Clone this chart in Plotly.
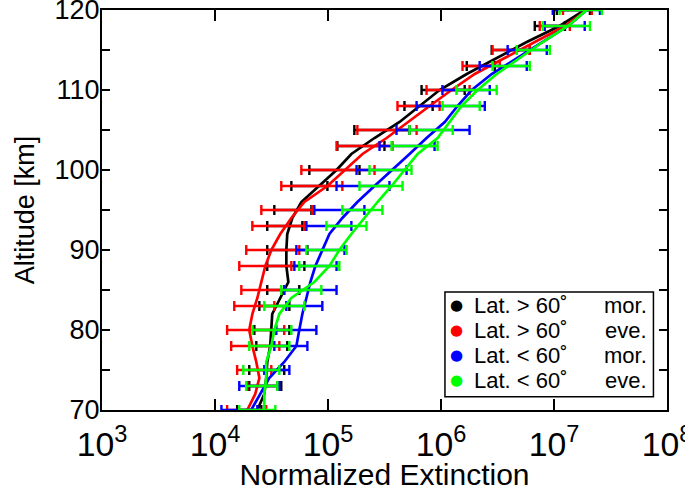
import plotly.graph_objects as go

# altitude grid of the profiles [km]
alt = [70, 72, 74, 76, 78, 80, 82, 84, 86, 88, 90, 92, 94, 96, 98,
       100, 102, 104, 106, 108, 110, 112, 114, 116, 118, 120]

# normalized extinction profiles
ext_hi_mor = [2.37e4, 2.73e4, 2.84e4, 2.90e4, 3.08e4, 3.15e4, 3.21e4, 3.78e4, 4.46e4, 4.28e4,
              4.28e4, 4.36e4, 4.83e4, 5.81e4, 8.39e4, 1.19e5, 1.61e5, 2.58e5, 4.30e5, 6.46e5,
              9.72e5, 1.69e6, 3.11e6, 5.74e6, 1.12e7, 1.87e7]
ext_hi_eve = [1.93e4, 2.27e4, 2.47e4, 2.32e4, 2.14e4, 2.01e4, 2.14e4, 2.37e4, 2.57e4, 2.79e4,
              3.15e4, 3.78e4, 4.74e4, 6.18e4, 9.88e4, 1.40e5, 2.02e5, 3.30e5, 5.06e5, 7.93e5,
              1.24e6, 1.99e6, 3.66e6, 6.76e6, 1.25e7, 1.95e7]
ext_lo_mor = [2.09e4, 2.52e4, 3.02e4, 4.10e4, 5.25e4, 5.57e4, 5.93e4, 6.44e4, 6.98e4, 7.73e4,
              8.91e4, 1.03e5, 1.34e5, 1.82e5, 2.58e5, 3.72e5, 5.27e5, 7.45e5, 1.08e6, 1.40e6,
              1.87e6, 2.81e6, 4.68e6, 7.96e6, 1.33e7, 1.95e7]
ext_lo_eve = [2.73e4, 2.73e4, 2.84e4, 2.84e4, 3.15e4, 3.35e4, 3.71e4, 4.74e4, 7.57e4, 1.03e5,
              1.26e5, 1.61e5, 2.10e5, 2.74e5, 3.65e5, 4.75e5, 6.21e5, 9.33e5, 1.19e6, 1.52e6,
              2.11e6, 3.11e6, 4.98e6, 7.96e6, 1.33e7, 1.95e7]

# altitudes of the error bars [km]
bar_alt = [70, 73, 75, 78, 80, 83, 85, 88, 90, 93, 95, 98, 100, 103, 105, 108, 110, 113, 115, 118, 120]

# error bar lower / upper bounds
hi_mor_min = [1.57e4, 2.01e4, 2.01e4, 2.32e4, 2.23e4, 2.47e4, 2.90e4, 2.90e4, 2.90e4, 2.90e4, 3.35e4,
              4.74e4, 6.84e4, 1.21e5, 1.71e5, 4.75e5, 6.73e5, 1.69e6, 2.81e6, 6.76e6, 1.06e7]
hi_mor_max = [2.57e4, 3.86e4, 4.10e4, 4.36e4, 4.55e4, 4.55e4, 5.57e4, 6.18e4, 6.57e4, 5.93e4, 7.13e4,
              9.88e4, 1.90e5, 3.16e5, 5.27e5, 8.43e5, 1.62e6, 2.99e6, 6.10e6, 1.25e7, 2.08e7]
hi_eve_min = [1.28e4, 1.93e4, 1.57e4, 1.39e4, 1.28e4, 1.48e4, 1.71e4, 1.64e4, 1.89e4, 2.14e4, 2.57e4,
              3.86e4, 5.81e4, 1.19e5, 1.82e5, 4.12e5, 7.45e5, 1.55e6, 2.86e6, 7.48e6, 1.20e7]
hi_eve_max = [2.84e4, 3.56e4, 3.15e4, 3.71e4, 4.10e4, 3.35e4, 4.10e4, 4.74e4, 5.57e4, 6.18e4, 7.27e4,
              1.34e5, 2.58e5, 3.72e5, 6.08e5, 9.72e5, 1.79e6, 3.31e6, 6.10e6, 1.38e7, 2.16e7]
lo_mor_min = [1.14e4, 1.64e4, 2.73e4, 3.35e4, 3.49e4, 4.28e4, 4.10e4, 5.04e4, 5.25e4, 6.44e4, 7.57e4,
              1.19e5, 1.79e5, 2.86e5, 4.04e5, 6.08e5, 1.03e6, 2.20e6, 3.89e6, 8.28e6, 9.75e6]
lo_mor_max = [2.37e4, 3.71e4, 4.55e4, 6.57e4, 7.89e4, 8.91e4, 1.19e5, 1.19e5, 1.40e5, 1.61e5, 2.10e5,
              3.50e5, 4.96e5, 8.77e5, 1.79e6, 2.44e6, 2.70e6, 5.74e6, 8.63e6, 1.87e7, 2.55e7]
lo_eve_min = [1.64e4, 1.89e4, 1.78e4, 2.01e4, 2.14e4, 2.73e4, 3.86e4, 5.57e4, 6.44e4, 9.68e4, 1.34e5,
              1.90e5, 2.33e5, 3.65e5, 5.27e5, 1.03e6, 1.37e6, 2.86e6, 4.68e6, 7.96e6, 1.12e7]
lo_eve_max = [3.42e4, 3.56e4, 3.71e4, 4.55e4, 4.74e4, 6.18e4, 8.73e4, 1.26e5, 1.46e5, 2.19e5, 3.03e5,
              4.57e5, 5.48e5, 9.33e5, 1.27e6, 2.20e6, 3.11e6, 6.10e6, 9.18e6, 2.08e7, 2.65e7]

# legend labels
legend_lat = ["Lat. > 60\u02da", "Lat. > 60\u02da", "Lat. < 60\u02da", "Lat. < 60\u02da"]
legend_time = ["mor.", "eve.", "mor.", "eve."]

colors = ["#000000", "#ff0000", "#0000ff", "#00ff00"]
profiles = [ext_hi_mor, ext_hi_eve, ext_lo_mor, ext_lo_eve]
bounds = [(hi_mor_min, hi_mor_max), (hi_eve_min, hi_eve_max),
          (lo_mor_min, lo_mor_max), (lo_eve_min, lo_eve_max)]

fig = go.Figure()

for prof, (bmin, bmax), col, lat, tod in zip(profiles, bounds, colors, legend_lat, legend_time):
    fig.add_trace(go.Scatter(x=prof, y=alt, mode="lines", showlegend=False,
                             name=lat + " " + tod, line=dict(color=col, width=2.7)))
    mid = [(a * b) ** 0.5 for a, b in zip(bmin, bmax)]
    fig.add_trace(go.Scatter(
        x=mid, y=bar_alt, mode="markers", showlegend=False,
        marker=dict(size=1, color=col),
        error_x=dict(type="data", symmetric=False,
                     array=[b - m for b, m in zip(bmax, mid)],
                     arrayminus=[m - a for a, m in zip(bmin, mid)],
                     color=col, thickness=2.4, width=5)))

# legend box drawn by hand (row spacing of the original is tighter than plotly's)
fig.add_shape(type="rect", xref="paper", yref="paper", x0=0.607, x1=0.976, y0=0.033, y1=0.295,
              line=dict(color="black", width=1.5), fillcolor="white", layer="above")
for i, (lat, tod, col) in enumerate(zip(legend_lat, legend_time, colors)):
    yr = 0.262 - i * 0.0625
    fig.add_annotation(xref="paper", yref="paper", x=0.627, y=yr, text="\u25cf", showarrow=False,
                       font=dict(size=15, color=col, family="DejaVu Sans"), xanchor="center", yanchor="middle")
    fig.add_annotation(xref="paper", yref="paper", x=0.655, y=yr, text=lat, showarrow=False,
                       font=dict(size=22), xanchor="left", yanchor="middle")
    fig.add_annotation(xref="paper", yref="paper", x=0.969, y=yr, text=tod, showarrow=False,
                       font=dict(size=22), xanchor="right", yanchor="middle")

font = "Liberation Sans, Arial, sans-serif"
fig.update_layout(
    width=685, height=491,
    margin=dict(l=102, r=18, t=10, b=81),
    paper_bgcolor="white", plot_bgcolor="white",
    font=dict(family=font, color="black"),
    showlegend=False,
    xaxis=dict(type="log", range=[3, 8], dtick=1, exponentformat="power",
               showgrid=False, zeroline=False, automargin=False,
               showline=True, linecolor="black", linewidth=2, mirror="ticks",
               ticks="inside", ticklen=11, tickwidth=1.5, tickcolor="black",
               tickfont=dict(size=27), ticklabeloverflow="allow", ticklabelstandoff=5,
               title=dict(text="Normalized Extinction", font=dict(size=30), standoff=8)),
    yaxis=dict(range=[70, 120], dtick=10, showgrid=False, zeroline=False, automargin=False,
               showline=True, linecolor="black", linewidth=2, mirror="ticks",
               ticks="inside", ticklen=8, tickwidth=1.5, tickcolor="black",
               minor=dict(dtick=5, ticks="inside", ticklen=8, tickwidth=1.5, tickcolor="black"),
               tickfont=dict(size=27), ticklabeloverflow="allow", ticklabelstandoff=-5,
               title=dict(text="Altitude [km]", font=dict(size=27), standoff=12)),
)

fig.write_html("out.html", config={"displayModeBar": False},
               post_script="document.body.style.margin='0px';")
